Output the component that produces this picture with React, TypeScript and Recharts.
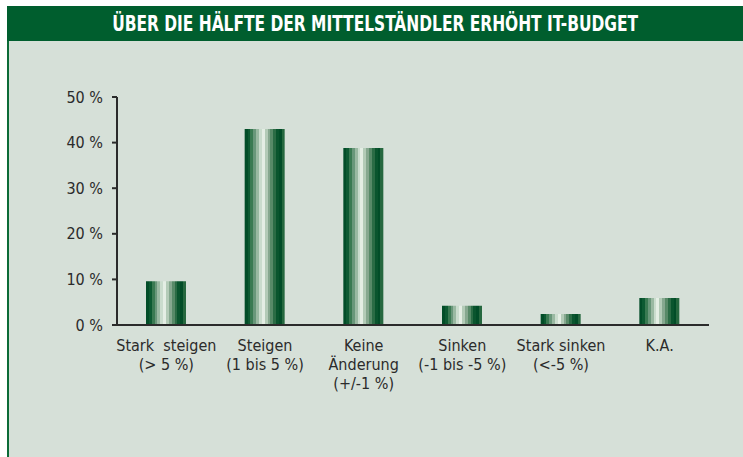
import { BarChart, Bar, XAxis, YAxis } from 'recharts'

const categories = [
  'Stark  steigen\n(> 5 %)',
  'Steigen\n(1 bis 5 %)',
  'Keine\nÄnderung\n(+/-1 %)',
  'Sinken\n(-1 bis -5 %)',
  'Stark sinken\n(<-5 %)',
  'K.A.',
]
const shares = [9.6, 43, 38.8, 4.2, 2.4, 5.9]
const yTicks = [0, 10, 20, 30, 40, 50]
const boundaryTicks = [0, 1, 2, 3, 4, 5, 6]

// vertical stripe shades of the cylinder-style bars, left to right
const stripeColors = [
  '#024d28', '#0d5a32', '#3a7a52', '#69977a', '#9ab9a2', '#cadccd',
  '#e4eee4', '#b3cbb7', '#86a88f', '#588a68', '#2b6c45', '#0a552e', '#024d28', '#26683f',
]

const FONT = '"DejaVu Sans Condensed", "Liberation Sans Narrow", sans-serif'
const INK = '#2b2b2b'

const data = categories.map((name, i) => ({ name, value: shares[i] }))

function CategoryTick(props: any) {
  const { x, y, payload } = props
  const lines = String(payload.value).split('\n')
  return (
    <text x={x} y={y} textAnchor="middle" fill={INK} fontSize={16} fontFamily={FONT}>
      {lines.map((l, i) => (
        <tspan key={i} x={x} dy={i === 0 ? 10 : 19} style={{ whiteSpace: 'pre' }}>
          {l}
        </tspan>
      ))}
    </text>
  )
}

export default function App() {
  const n = stripeColors.length
  return (
    <div style={{ position: 'absolute', left: 0, top: 0, width: 743, height: 457, background: '#fff', overflow: 'hidden' }}>
      <div
        style={{
          position: 'absolute', left: 7, top: 6, width: 736, height: 451,
          background: '#d6e0d8', borderLeft: '2px solid #0b6b37', boxSizing: 'border-box',
        }}
      />
      <div
        style={{
          position: 'absolute', left: 7, top: 6, width: 736, height: 35, background: '#005e2e',
          color: '#fff', fontFamily: FONT, fontWeight: 'bold', fontSize: 22,
          display: 'flex', alignItems: 'center', justifyContent: 'center',
        }}
      >
        <span style={{ display: 'inline-block', transform: 'scaleX(0.78)', whiteSpace: 'nowrap' }}>
          ÜBER DIE HÄLFTE DER MITTELSTÄNDLER ERHÖHT IT-BUDGET
        </span>
      </div>
      <div style={{ position: 'absolute', left: 0, top: 0 }}>
        <BarChart width={743} height={457} data={data} margin={{ top: 97, right: 34, left: 67, bottom: 54 }}>
          <defs>
            <linearGradient id="barShade" x1="0" y1="0" x2="1" y2="0">
              {stripeColors.flatMap((c, i) => [
                <stop key={`s${i}`} offset={`${(i / n) * 100}%`} stopColor={c} />,
                <stop key={`e${i}`} offset={`${((i + 1) / n) * 100}%`} stopColor={c} />,
              ])}
            </linearGradient>
          </defs>
          <XAxis
            xAxisId="a"
            type="number"
            domain={[0, 6]}
            ticks={boundaryTicks}
            tick={false}
            tickSize={7}
            height={8}
            axisLine={{ stroke: INK, strokeWidth: 2 }}
            tickLine={{ stroke: INK, strokeWidth: 2 }}
          />
          <XAxis
            xAxisId="b"
            dataKey="name"
            interval={0}
            axisLine={false}
            tickLine={false}
            height={70}
            tick={<CategoryTick />}
          />
          <YAxis
            domain={[0, 50]}
            ticks={yTicks}
            width={50}
            tickSize={5}
            tickMargin={9}
            tickFormatter={(v) => `${v} %`}
            tick={{ fill: INK, fontSize: 16, fontFamily: FONT }}
            axisLine={{ stroke: INK, strokeWidth: 2 }}
            tickLine={{ stroke: INK, strokeWidth: 2 }}
          />
          <Bar xAxisId="b" dataKey="value" barSize={40} fill="url(#barShade)" isAnimationActive={false} />
        </BarChart>
      </div>
    </div>
  )
}
